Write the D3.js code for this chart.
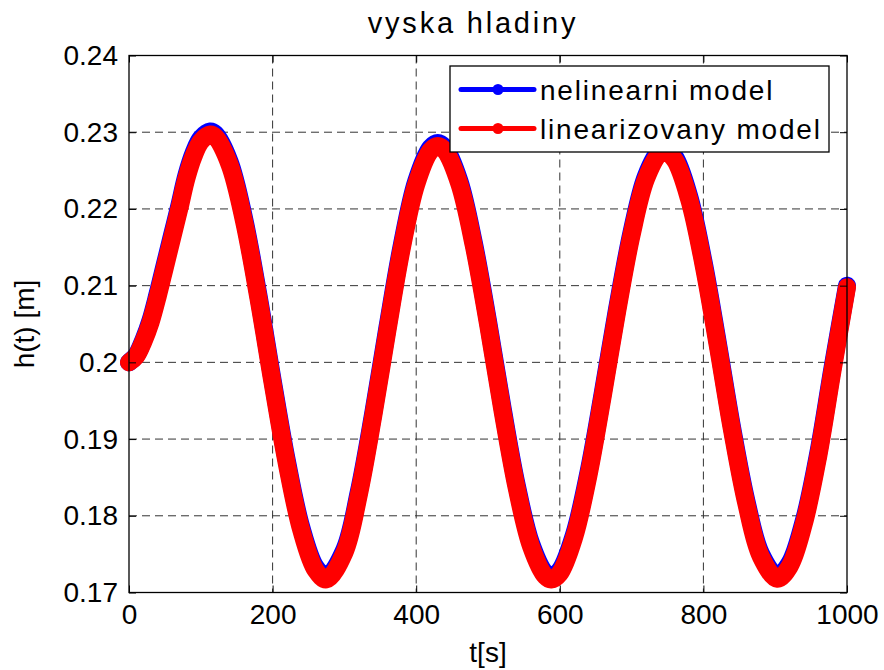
<!DOCTYPE html>
<html><head><meta charset="utf-8">
<script src="https://cdn.jsdelivr.net/npm/d3@7"></script>
<style>body{margin:0;background:#fff}svg{display:block}text{font-family:"Liberation Sans",Arial,Helvetica,sans-serif;fill:#000}</style>
</head><body>
<svg id="c" width="884" height="670"></svg>
<script>
const times = [0,10,20,30,40,50,60,70,80,90,100,113,120,140,160,180,200,220,240,260,275,300,320,340,360,380,400,420,430,440,460,480,500,520,540,560,580,588,600,620,640,660,680,700,720,740,746,760,780,800,820,840,860,880,903,920,940,960,980,1000];
const nelinearni = [0.2000,0.2009,0.2029,0.2055,0.2090,0.2128,0.2166,0.2204,0.2244,0.2273,0.2292,0.2301,0.2298,0.2262,0.2189,0.2089,0.1977,0.1871,0.1785,0.1733,0.1721,0.1756,0.1831,0.1933,0.2046,0.2153,0.2236,0.2280,0.2286,0.2280,0.2237,0.2157,0.2054,0.1942,0.1840,0.1764,0.1725,0.1721,0.1729,0.1776,0.1857,0.1961,0.2071,0.2170,0.2243,0.2277,0.2279,0.2268,0.2217,0.2132,0.2026,0.1915,0.1819,0.1751,0.1722,0.1738,0.1794,0.1882,0.1994,0.2100];
const linearizovany = [0.2000,0.2008,0.2027,0.2052,0.2086,0.2124,0.2162,0.2200,0.2240,0.2269,0.2288,0.2297,0.2294,0.2258,0.2185,0.2085,0.1973,0.1867,0.1781,0.1729,0.1717,0.1752,0.1827,0.1929,0.2042,0.2149,0.2232,0.2276,0.2282,0.2276,0.2233,0.2153,0.2050,0.1938,0.1836,0.1760,0.1721,0.1717,0.1725,0.1772,0.1853,0.1957,0.2067,0.2166,0.2239,0.2273,0.2275,0.2264,0.2213,0.2128,0.2022,0.1911,0.1815,0.1747,0.1718,0.1734,0.1790,0.1878,0.1990,0.2098];
const seriesNames = ["nelinearni model","linearizovany model"];
const seriesColors = ["#0000ff","#ff0000"];
const xTicks = [0,200,400,600,800,1000];
const xTickLabels = ["0","200","400","600","800","1000"];
const yTicks = [0.17,0.18,0.19,0.2,0.21,0.22,0.23,0.24];
const yTickLabels = ["0.17","0.18","0.19","0.2","0.21","0.22","0.23","0.24"];
const titleText = "vyska hladiny";
const xLabel = "t[s]";
const yLabel = "h(t) [m]";

const L = 129, R = 847, T = 55.5, B = 592.5;
const svg = d3.select("#c");
const x = d3.scaleLinear().domain([0,1000]).range([L,R]);
const y = d3.scaleLinear().domain([0.17,0.24]).range([B,T]);

// grid
const g = svg.append("g");
g.selectAll("line.gx").data(xTicks.slice(1,-1)).join("line")
  .attr("x1",d=>x(d)).attr("x2",d=>x(d)).attr("y1",T).attr("y2",B)
  .attr("stroke","#333").attr("stroke-width",1).attr("stroke-dasharray","8,5");
g.selectAll("line.gy").data(yTicks.slice(1,-1)).join("line")
  .attr("y1",d=>y(d)).attr("y2",d=>y(d)).attr("x1",L).attr("x2",R)
  .attr("stroke","#333").attr("stroke-width",1).attr("stroke-dasharray","8,5");

// series
const line = d3.line().x((d,i)=>x(times[i])).y(d=>y(d)).curve(d3.curveCatmullRom);
[nelinearni, linearizovany].forEach((s,k)=>{
  svg.append("path").attr("d",line(s)).attr("fill","none")
    .attr("stroke",seriesColors[k]).attr("stroke-width",18)
    .attr("stroke-linejoin","round").attr("stroke-linecap","round");
});

// axes
const fs = 28;
const ax = svg.append("g").attr("transform",`translate(0,${B})`)
  .call(d3.axisBottom(x).tickValues(xTicks).tickFormat((d,i)=>xTickLabels[i]).tickSizeInner(-7).tickSizeOuter(0).tickPadding(12));
const ay = svg.append("g").attr("transform",`translate(${L},0)`)
  .call(d3.axisLeft(y).tickValues(yTicks).tickFormat((d,i)=>yTickLabels[i]).tickSizeInner(-7).tickSizeOuter(0).tickPadding(11));
const at = svg.append("g").attr("transform",`translate(0,${T})`)
  .call(d3.axisTop(x).tickValues(xTicks).tickFormat("").tickSizeInner(-7).tickSizeOuter(0));
const ar = svg.append("g").attr("transform",`translate(${R},0)`)
  .call(d3.axisRight(y).tickValues(yTicks).tickFormat("").tickSizeInner(-7).tickSizeOuter(0));
[ax,ay,at,ar].forEach(a=>{
  a.select(".domain").remove();
  a.selectAll("line").attr("stroke","#000").attr("stroke-width",1);
  a.selectAll("text").attr("font-size",fs).attr("font-family","Liberation Sans, Arial, sans-serif").attr("fill","#000");
});
svg.append("rect").attr("x",L).attr("y",T).attr("width",R-L).attr("height",B-T)
  .attr("fill","none").attr("stroke","#000").attr("stroke-width",1.3);

// labels
svg.append("text").attr("x",473).attr("y",33).attr("text-anchor","middle").attr("font-size",29).attr("letter-spacing",2.8).text(titleText);
svg.append("text").attr("x",(L+R)/2).attr("y",662).attr("text-anchor","middle").attr("font-size",fs).text(xLabel);
svg.append("text").attr("transform","translate(34,324) rotate(-90)").attr("text-anchor","middle").attr("font-size",fs).text(yLabel);

// legend
const lg = svg.append("g");
lg.append("rect").attr("x",450).attr("y",66).attr("width",379).attr("height",86)
  .attr("fill","#fff").attr("stroke","#000").attr("stroke-width",1.3);
seriesNames.forEach((n,k)=>{
  const yy = 89.5 + k*39;
  lg.append("line").attr("x1",461).attr("x2",534).attr("y1",yy).attr("y2",yy)
    .attr("stroke",seriesColors[k]).attr("stroke-width",5).attr("stroke-linecap","round");
  lg.append("circle").attr("cx",498).attr("cy",yy).attr("r",5.5).attr("fill",seriesColors[k]);
  lg.append("text").attr("x",540).attr("y",yy+10).attr("font-size",fs).attr("letter-spacing",1.8).text(n);
});
</script>
</body></html>
